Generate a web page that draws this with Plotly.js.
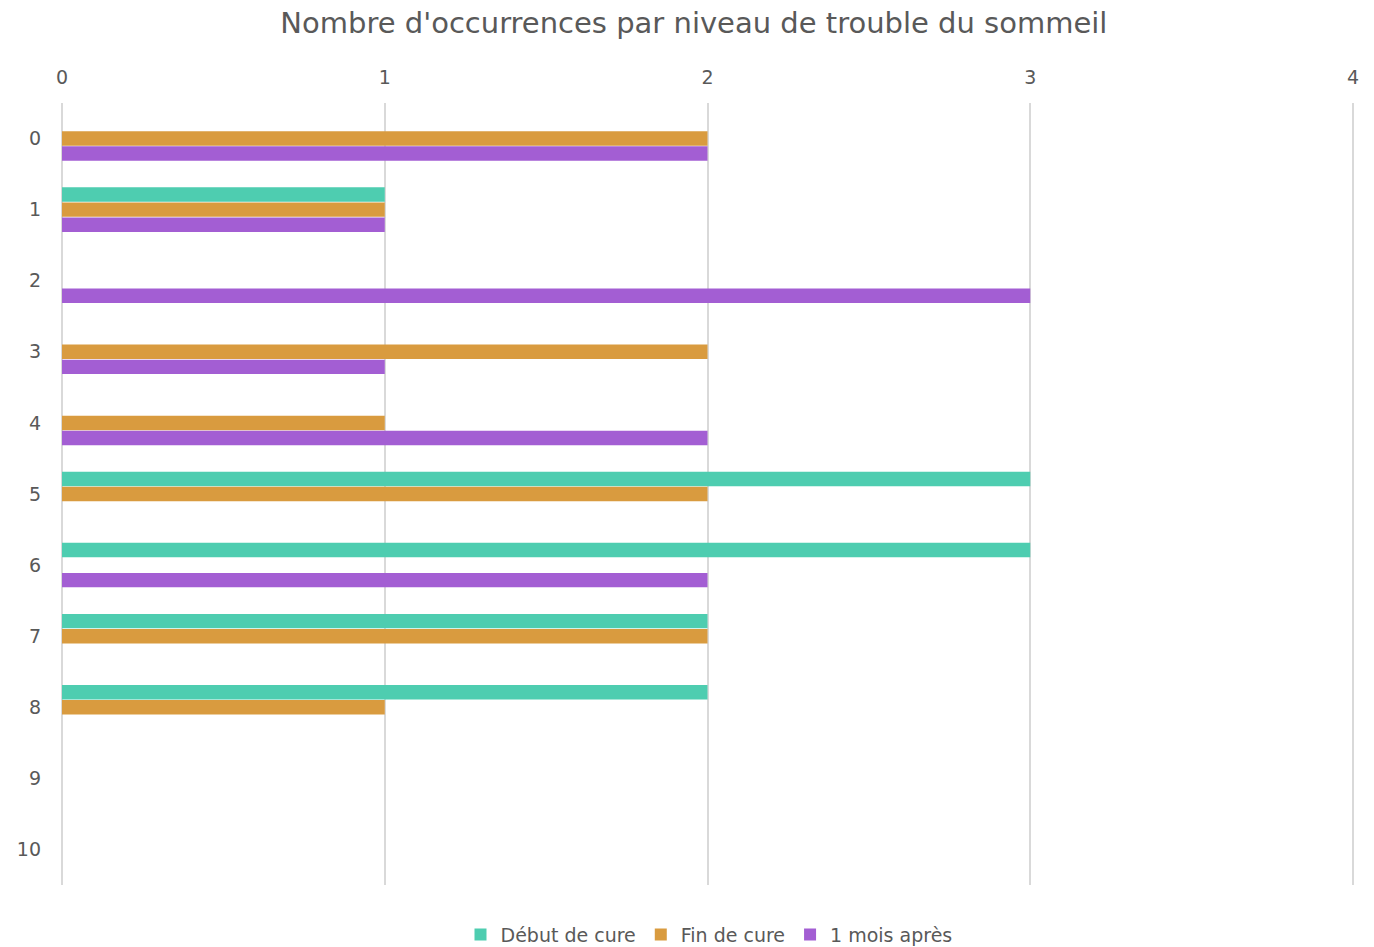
<!DOCTYPE html>
<html>
<head>
<meta charset="utf-8">
<script src="https://cdn.plot.ly/plotly-3.0.1.min.js"></script>
<style>html,body{margin:0;padding:0;background:#fff;}#chart{width:1374px;height:947px;}</style>
</head>
<body>
<div id="chart"></div>
<script>
const categories = ["0","1","2","3","4","5","6","7","8","9","10"];
const debutDeCure = [0,1,0,0,0,3,3,2,2,0,0];
const finDeCure   = [2,1,0,2,1,2,0,2,1,0,0];
const unMoisApres = [2,1,3,1,2,0,2,0,0,0,0];
const seriesNames = ["Début de cure","Fin de cure","1 mois après"];
const seriesColors = ["#4ECDB0","#D99B3F","#A35ED3"];
const seriesValues = [debutDeCure, finDeCure, unMoisApres];

const traces = seriesValues.map((vals, i) => ({
  type: 'bar',
  orientation: 'h',
  name: seriesNames[i],
  x: vals,
  y: categories,
  marker: {color: seriesColors[i], line: {width: 0}},
  hoverinfo: 'x+y+name'
}));

const fontFam = '"DejaVu Sans", sans-serif';
const layout = {
  width: 1374, height: 947,
  paper_bgcolor: '#ffffff', plot_bgcolor: '#ffffff',
  font: {family: fontFam, color: '#595959', size: 19},
  title: {text: "Nombre d'occurrences par niveau de trouble du sommeil", x: 0.505, xanchor: 'center', y: 0.976, yanchor: 'middle', font: {size: 29, color: '#595959', family: fontFam}},
  margin: {l: 62, r: 18, t: 103, b: 62},
  barmode: 'group',
  bargap: 0.365,
  bargroupgap: 0.04,
  xaxis: {
    side: 'top', range: [0, 4.0093], dtick: 1, tick0: 0,
    showgrid: true, gridcolor: '#D9D9D9', gridwidth: 1.5,
    zeroline: true, zerolinecolor: '#D9D9D9', zerolinewidth: 1.5,
    showline: false, ticks: '',
    ticklabelstandoff: 14,
    tickfont: {size: 19, color: '#595959'}
  },
  yaxis: {
    type: 'category', range: [10.5, -0.5],
    showgrid: false, zeroline: false, showline: false, ticks: '',
    ticklabelstandoff: 20,
    tickfont: {size: 19, color: '#595959'}
  },
  legend: {orientation: 'h', x: 0.5, xanchor: 'center', yref: 'container', y: 0.013, yanchor: 'middle', font: {size: 19, color: '#595959'}, itemwidth: 30, tracegroupgap: 0},
  showlegend: true
};
Plotly.newPlot('chart', traces, layout, {displayModeBar: false});
</script>
</body>
</html>
